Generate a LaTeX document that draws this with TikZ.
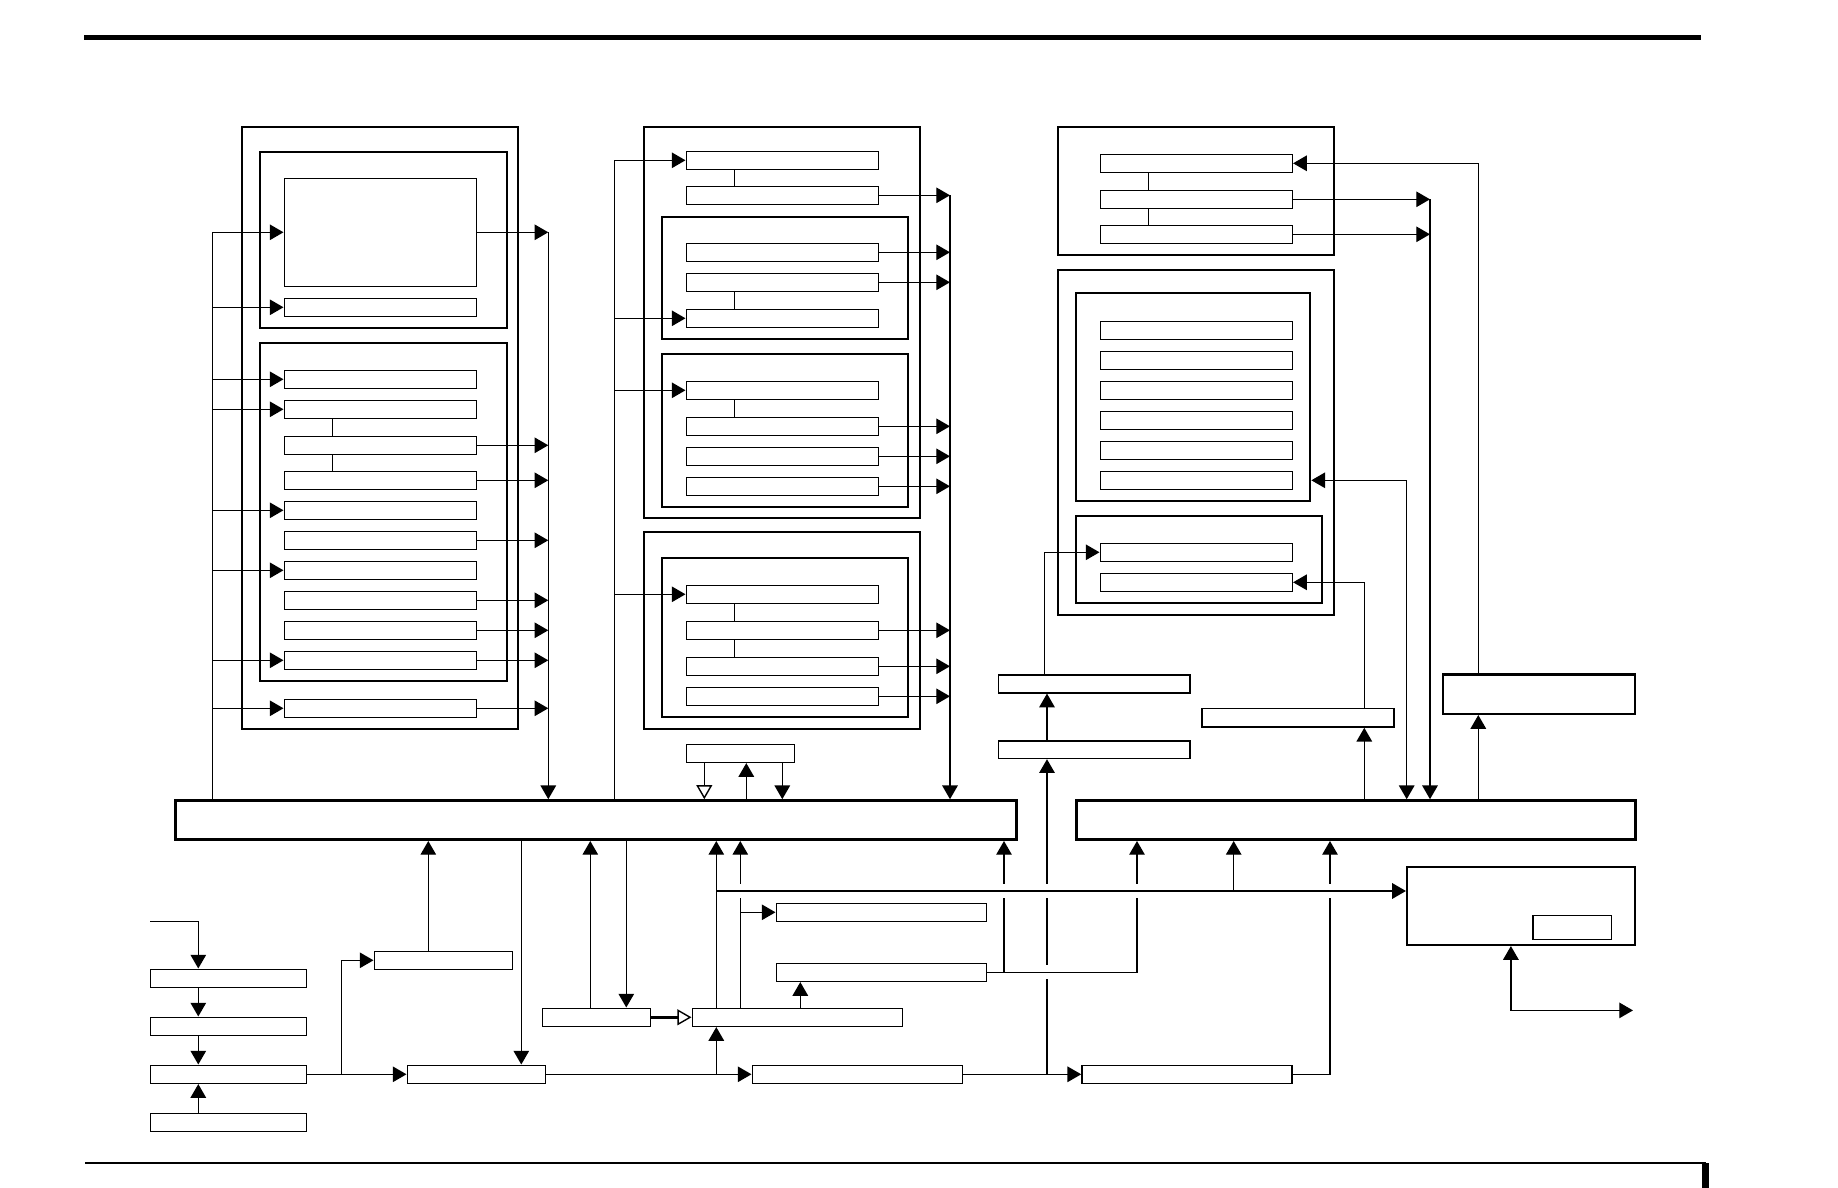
\documentclass[tikz,border=0pt]{standalone}
\usetikzlibrary{arrows.meta,fit}
\tikzset{
  frame/.style={draw, line width=0.6pt, inner sep=0pt},
  rowbox/.style={draw, line width=0.45pt, inner sep=0pt},
  busbox/.style={draw, line width=0.85pt, inner sep=0pt},
  conn/.style={line width=0.4pt},
  arr/.style={conn, -{Triangle[length=3.9pt,width=4.4pt]}},
  arrboth/.style={conn, {Triangle[length=3.9pt,width=4.4pt]}-{Triangle[length=3.9pt,width=4.4pt]}},
  openarr/.style={conn, -{Triangle[open,length=4pt,width=4.5pt]}},
  gapmark/.style={draw=white, line width=1.6pt},
}
\newcommand\mkbox[6]{\node[#1, fit={(#3,#4) (#5,#6)}] (#2) {};}
\newcommand\lrow[2]{\mkbox{rowbox}{#1}{284.3}{#2-9}{476.3}{#2+9}}
\newcommand\mrow[2]{\mkbox{rowbox}{#1}{686.3}{#2-9}{878.3}{#2+9}}
\newcommand\rrow[2]{\mkbox{rowbox}{#1}{1100.3}{#2-9}{1292.3}{#2+9}}
\begin{document}
\begin{tikzpicture}[x=0.01cm,y=-0.01cm]
\useasboundingbox (0,0) rectangle (1838,1188);

% page rules
\draw[line width=1.45pt] (84,37.5) -- (1701,37.5);
\draw[line width=0.6pt] (85,1163.2) -- (1706,1163.2);
\draw[line width=1.8pt] (1705.5,1163) -- (1705.5,1188);

% ---------- left column ----------
\mkbox{frame}{LO}{241.7}{127.3}{518.3}{728.7}
\mkbox{frame}{LI1}{259.7}{151.7}{506.7}{328.3}
\mkbox{rowbox}{l0}{284.3}{178.3}{476.3}{286.3}
\mkbox{rowbox}{l1}{284.3}{298.3}{476.3}{316.3}
\mkbox{frame}{LI2}{259.7}{343.3}{506.7}{681}
\lrow{l2}{379.3}
\lrow{l3}{409.3}
\lrow{l4}{445.3}
\lrow{l5}{480.3}
\lrow{l6}{510.3}
\lrow{l7}{540.3}
\lrow{l8}{570.3}
\lrow{l9}{600.3}
\lrow{l10}{630.3}
\lrow{l11}{660.3}
\lrow{l12}{708.3}

% ---------- middle column ----------
\mkbox{frame}{MO1}{644.3}{127.3}{920.3}{518.3}
\mrow{m1}{160.3}
\mrow{m2}{195.3}
\mkbox{frame}{MI1}{662.3}{217.3}{908.3}{339}
\mrow{m3}{252.3}
\mrow{m4}{282.3}
\mrow{m5}{318.3}
\mkbox{frame}{MI2}{662.3}{353.7}{908.3}{507}
\mrow{m6}{390.3}
\mrow{m7}{426.3}
\mrow{m8}{456.3}
\mrow{m9}{486.3}
\mkbox{frame}{MO2}{644.3}{532.3}{920.3}{729}
\mkbox{frame}{MI3}{662.3}{557.7}{908.3}{717}
\mrow{m10}{594.3}
\mrow{m11}{630.3}
\mrow{m12}{666.3}
\mrow{m13}{696.3}
\mkbox{rowbox}{mS}{686.3}{744.3}{794.3}{762.3}

% ---------- right column ----------
\mkbox{frame}{RO1}{1058.3}{127.3}{1334.3}{255}
\rrow{r1}{163.3}
\rrow{r2}{199.3}
\rrow{r3}{234.3}
\mkbox{frame}{RO2}{1058.3}{270}{1334.3}{615}
\mkbox{frame}{RI1}{1076.3}{293.3}{1310.3}{501}
\rrow{r4}{330.3}
\rrow{r5}{360.3}
\rrow{r6}{390.3}
\rrow{r7}{420.3}
\rrow{r8}{450.3}
\rrow{r9}{480.3}
\mkbox{frame}{RI2}{1076.3}{515.7}{1322.3}{602.7}
\rrow{r10}{552.3}
\rrow{r11}{582.3}

% ---------- buses ----------
\mkbox{busbox}{busL}{175.7}{800.7}{1016.5}{839.5}
\mkbox{busbox}{busR}{1076.5}{800.7}{1635}{839.5}

% ---------- right-side boxes ----------
\mkbox{rowbox}{Q}{998.7}{675.2}{1190}{692.8}
\mkbox{rowbox}{Q2}{998.7}{740.8}{1190}{758.4}
\mkbox{rowbox}{S}{1202}{708.5}{1394}{727}
\mkbox{frame}{RB}{1443}{674.5}{1635}{714}
\mkbox{frame}{R}{1407}{866.7}{1635}{945}
\mkbox{rowbox}{Rs}{1533}{915.5}{1611.5}{939.3}

% ---------- bottom boxes ----------
\mkbox{rowbox}{L1}{150.3}{969.3}{306.3}{987.3}
\mkbox{rowbox}{L2}{150.3}{1017.3}{306.3}{1035.3}
\mkbox{rowbox}{L3}{150.3}{1065.3}{306.3}{1083.3}
\mkbox{rowbox}{L4}{150.3}{1113.3}{306.3}{1131.3}
\mkbox{rowbox}{X}{374.3}{951.3}{512.3}{969.3}
\mkbox{rowbox}{W}{407.3}{1065.3}{545.7}{1083.3}
\mkbox{rowbox}{Z}{542.3}{1008.3}{650.3}{1026.3}
\mkbox{rowbox}{Y}{692.3}{1008.3}{902.3}{1026.3}
\mkbox{rowbox}{AA}{776.3}{903.3}{986.3}{921.3}
\mkbox{rowbox}{T}{776.3}{963.3}{986.3}{981.3}
\mkbox{rowbox}{V}{752.3}{1065.3}{962.3}{1083.3}
\mkbox{rowbox}{U}{1082}{1065.3}{1292}{1083.3}

% ---------- coordinates of line tracks ----------
\coordinate (LIN) at (212.3,0);
\coordinate (LOUT) at (548.3,0);
\coordinate (LLK) at (332.3,0);
\coordinate (MIN) at (614.3,0);
\coordinate (MOUT) at (950,0);
\coordinate (MLK) at (734.3,0);
\coordinate (SA) at (704.3,0);
\coordinate (SB) at (746.3,0);
\coordinate (SC) at (782.3,0);
\coordinate (RLK) at (1148.3,0);
\coordinate (RX1) at (1364.3,0);
\coordinate (RX2) at (1406.7,0);
\coordinate (RX3) at (1430,0);
\coordinate (RX4) at (1478.3,0);
\coordinate (QX1) at (1044.3,0);
\coordinate (QX2) at (1047,0);
\coordinate (INP) at (150.3,921.3);
\coordinate (LCX) at (198.3,0);
\coordinate (JX) at (341.3,0);
\coordinate (BX1) at (428.3,0);
\coordinate (BX2) at (521.3,0);
\coordinate (BX3) at (590.3,0);
\coordinate (BX4) at (626.3,0);
\coordinate (BX5) at (716.3,0);
\coordinate (BX6) at (740.3,0);
\coordinate (BX7) at (800.3,0);
\coordinate (BX8) at (1004,0);
\coordinate (BX9) at (1137,0);
\coordinate (BX10) at (1233.7,0);
\coordinate (BX11) at (1330,0);
\coordinate (HY) at (0,891);
\coordinate (RBX) at (1510.9,0);
\coordinate (ROUT) at (1633,1010.4);

% ---------- left column connectors ----------
\draw[conn] (LIN |- l0.west) -- (LIN |- busL.north);
\foreach \n in {l0,l1,l2,l3,l6,l8,l11,l12} \draw[arr] (LIN |- \n.west) -- (\n.west);
\draw[arr] (LOUT |- l0.east) -- (LOUT |- busL.north);
\foreach \n in {l0,l4,l5,l7,l9,l10,l11,l12} \draw[arr] (\n.east) -- (LOUT |- \n.east);
\draw[conn] (LLK |- l3.south) -- (LLK |- l4.north);
\draw[conn] (LLK |- l4.south) -- (LLK |- l5.north);

% ---------- middle column connectors ----------
\draw[conn] (MIN |- m1.west) -- (MIN |- busL.north);
\foreach \n in {m1,m5,m6,m10} \draw[arr] (MIN |- \n.west) -- (\n.west);
\draw[arr] (MOUT |- m2.east) -- (MOUT |- busL.north);
\foreach \n in {m2,m3,m4,m7,m8,m9,m11,m12,m13} \draw[arr] (\n.east) -- (MOUT |- \n.east);
\draw[conn] (MLK |- m1.south) -- (MLK |- m2.north);
\draw[conn] (MLK |- m4.south) -- (MLK |- m5.north);
\draw[conn] (MLK |- m6.south) -- (MLK |- m7.north);
\draw[conn] (MLK |- m10.south) -- (MLK |- m11.north);
\draw[conn] (MLK |- m11.south) -- (MLK |- m12.north);
\draw[openarr] (SA |- mS.south) -- (SA |- busL.north);
\draw[arr] (SB |- busL.north) -- (SB |- mS.south);
\draw[arr] (SC |- mS.south) -- (SC |- busL.north);

% ---------- right column connectors ----------
\draw[conn] (RLK |- r1.south) -- (RLK |- r2.north);
\draw[conn] (RLK |- r2.south) -- (RLK |- r3.north);
\draw[arr] (RX4 |- RB.north) |- (r1.east);
\draw[arr] (RX4 |- busR.north) -- (RX4 |- RB.south);
\foreach \n in {r2,r3} \draw[arr] (\n.east) -- (RX3 |- \n.east);
\draw[arr] (RX3 |- r2.east) -- (RX3 |- busR.north);
\draw[arrboth] (RX2 |- busR.north) |- (RI1.east |- r9.east);
\draw[arr] (RX1 |- busR.north) -- (RX1 |- S.south);
\draw[arr] (RX1 |- S.north) |- (r11.east);
\draw[arr] (QX1 |- Q.north) |- (r10.west);
\draw[arr] (QX2 |- Q2.north) -- (QX2 |- Q.south);
\draw[arrboth] (RBX |- R.south) |- (ROUT);

% ---------- bottom connectors ----------
\draw[arr] (INP) -| (LCX |- L1.north);
\draw[arr] (LCX |- L1.south) -- (LCX |- L2.north);
\draw[arr] (LCX |- L2.south) -- (LCX |- L3.north);
\draw[arr] (LCX |- L4.north) -- (LCX |- L3.south);
\draw[arr] (L3.east) -- (W.west);
\draw[arr] (JX |- L3.east) |- (X.west);
\draw[arr] (BX1 |- X.north) -- (BX1 |- busL.south);
\draw[arr] (BX2 |- busL.south) -- (BX2 |- W.north);
\draw[arr] (BX3 |- Z.north) -- (BX3 |- busL.south);
\draw[arr] (BX4 |- busL.south) -- (BX4 |- Z.north);
\draw[line width=0.75pt, -{Triangle[open,length=4pt,width=4.5pt,line width=0.4pt]}] (Z.east) -- (Y.west);
\draw[arr] (BX5 |- Y.north) -- (BX5 |- busL.south);
\draw[arr] (W.east) -- (V.west);
\draw[arr] (BX5 |- W.east) -- (BX5 |- Y.south);
\draw[arr] (BX6 |- Y.north) -- (BX6 |- busL.south);
\draw[arr] (BX6 |- AA.west) -- (AA.west);
\draw[arr] (BX7 |- Y.north) -- (BX7 |- T.south);
\draw[arr] (V.east) -- (U.west);
\draw[arr] (QX2 |- V.east) -- (QX2 |- Q2.south);
\draw[arr] (U.east) -| (BX11 |- busR.south);
\draw[gapmark] (1047,965) -- (1047,979);
\draw[arr] (T.east) -| (BX9 |- busR.south);
\draw[arr] (BX8 |- T.east) -- (BX8 |- busL.south);
\foreach \x in {740.3,1004,1047,1137,1330} \draw[gapmark] (\x,884) -- (\x,898);
\draw[arr] (BX5 |- HY) -- (R.west |- HY);
\draw[arr] (BX10 |- HY) -- (BX10 |- busR.south);
\end{tikzpicture}
\end{document}
